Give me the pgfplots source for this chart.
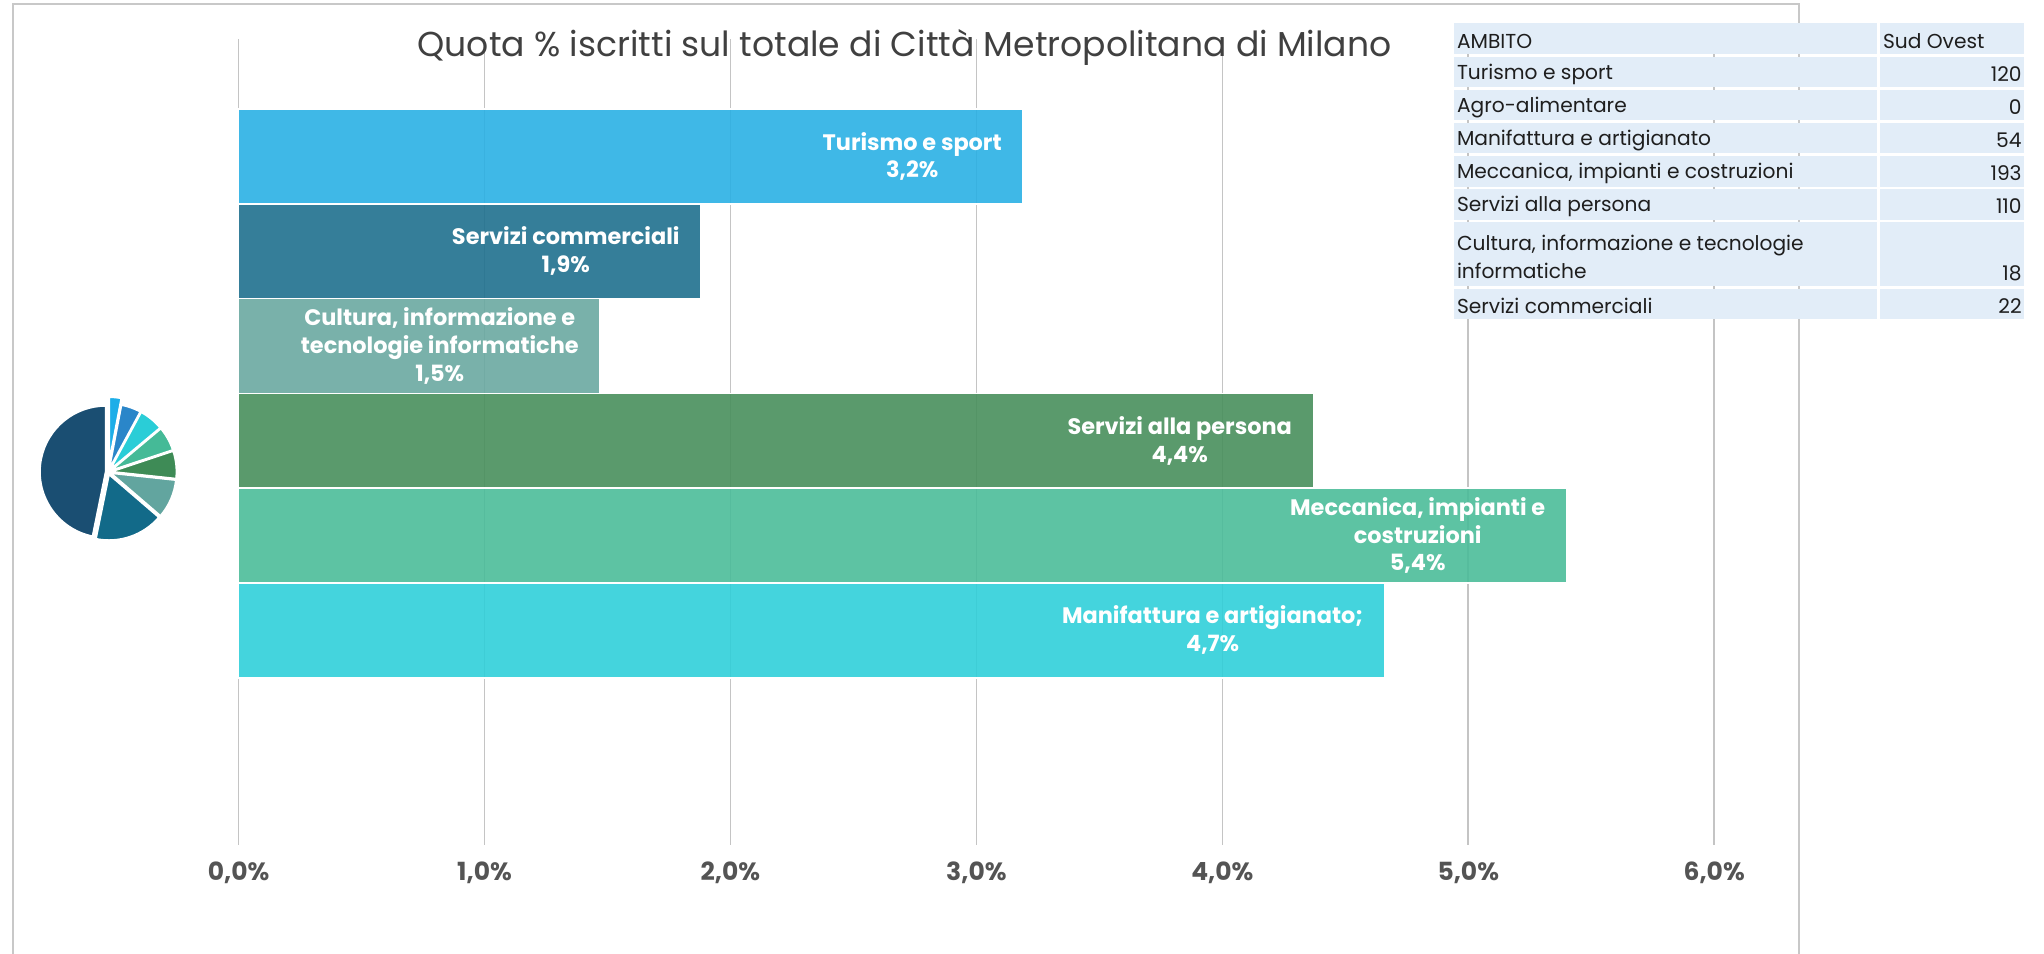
\documentclass[border=0pt]{standalone}
\usepackage{fontspec}
\setmainfont{Poppins}
\usepackage{pgfplots}
\pgfplotsset{compat=1.18}

% bar colours (base, shown at 90% opacity)
\definecolor{cTur}{HTML}{2AB0E4}
\definecolor{cCom}{HTML}{1F708E}
\definecolor{cCul}{HTML}{6AA9A1}
\definecolor{cPer}{HTML}{488F5C}
\definecolor{cMec}{HTML}{4BBC99}
\definecolor{cMan}{HTML}{30CFD9}
% pie colours
\definecolor{pA}{HTML}{1DAEE8}
\definecolor{pB}{HTML}{2A86C9}
\definecolor{pC}{HTML}{2ACDD7}
\definecolor{pD}{HTML}{45BA97}
\definecolor{pE}{HTML}{3E8B56}
\definecolor{pF}{HTML}{62A59F}
\definecolor{pG}{HTML}{126A89}
\definecolor{pH}{HTML}{1A4E72}
\definecolor{framegray}{HTML}{C8C8C8}
\definecolor{gridgray}{HTML}{C4C4C4}
\definecolor{tickgray}{HTML}{545454}
\definecolor{titlegray}{HTML}{404040}
\definecolor{tabfill}{HTML}{E2EDF8}
\definecolor{tabtext}{HTML}{1E1E1E}

\newcommand\pct{\pgfmathprintnumber[fixed,fixed zerofill,precision=1,use comma]{\pgfplotspointmeta}\%}

% table row: top (pt), number of lines, label, value
\newcommand\trow[4]{%
  \pgfmathsetmacro\tb{#1-#2*16.58+1.3}%
  \pgfmathsetmacro\tm{(#1+\tb)/2-1.2}%
  \pgfmathsetmacro\tv{\tb+6.6}%
  \fill[tabfill] (726.8pt,\tb pt) rectangle (938.6pt,#1pt);
  \fill[tabfill] (939.9pt,\tb pt) rectangle (1012.2pt,#1pt);
  \node[anchor=west, align=left, inner sep=0pt, text=tabtext,
        font=\fontsize{10.1}{14}\selectfont] at (728.3pt,\tm pt) {#3};
  \node[anchor=east, inner sep=0pt, text=tabtext,
        font=\fontsize{10.1}{14}\selectfont] at (1011pt,\tv pt) {#4};
}

\begin{document}
\begin{tikzpicture}
\path[use as bounding box] (0,0) rectangle (1022pt,476.5pt);
\draw[framegray, line width=1pt] (6.5pt,-2pt) -- (6.5pt,474.5pt) -- (899.5pt,474.5pt) -- (899.5pt,-2pt);

\begin{axis}[
    at={(119.3pt,54.1pt)}, anchor=south west,
    scale only axis,
    width=737.8pt, height=402.8pt,
    xmin=0, xmax=6,
    ymin=-2.263, ymax=6.238,
    clip=false,
    axis line style={draw=none},
    tick style={draw=none},
    ytick=\empty,
    xtick={0,1,2,3,4,5,6},
    xmajorgrids,
    major grid style={gridgray, line width=0.8pt},
    /pgf/number format/assume math mode=true,
    xticklabel={\pgfmathprintnumber[fixed,fixed zerofill,precision=1,use comma]{\tick}\%},
    xticklabel style={font=\bfseries\fontsize{12.5}{15}\selectfont, text=tickgray, yshift=-5pt},
    point meta=x,
    mybar/.style={xbar, bar width=1, bar shift=0pt, draw=white, line width=0.8pt,
        fill opacity=0.9, nodes near coords={#1\\\pct}},
    every node near coord/.append style={anchor=east, xshift=-7pt, align=center,
        text=white, text opacity=1, fill opacity=1,
        font=\bfseries\fontsize{11.2}{13.9}\selectfont},
]
\addplot[mybar={Manifattura e artigianato;}, fill=cMan] coordinates {(4.66,0)};
\addplot[mybar={Meccanica, impianti e\\costruzioni}, fill=cMec] coordinates {(5.40,1)};
\addplot[mybar={Servizi alla persona}, fill=cPer] coordinates {(4.37,2)};
\addplot[mybar={Cultura, informazione e\\tecnologie informatiche}, fill=cCul] coordinates {(1.47,3)};
\addplot[mybar={Servizi commerciali}, fill=cCom] coordinates {(1.88,4)};
\addplot[mybar={Turismo e sport}, fill=cTur] coordinates {(3.19,5)};
\end{axis}

% small pie inset: share / colour / explode (pt)
\gdef\pa{90}
\foreach \v/\c/\ex in {3.0/pA/4.5, 4.9/pB/1.2, 6.0/pC/1.2, 6.0/pD/1.2,
                       6.8/pE/1.2, 9.6/pF/1.2, 16.9/pG/1.2, 46.8/pH/1.2}{
  \pgfmathsetmacro\pb{\pa-3.6*\v}
  \pgfmathsetmacro\pmid{(\pa+\pb)/2}
  \fill[\c, draw=white, line width=1pt] ([shift={(\pmid:\ex pt)}]54.1pt,240.5pt)
      -- ++(\pa:33pt) arc[start angle=\pa, end angle=\pb, radius=33pt] -- cycle;
  \xdef\pa{\pb}
}

% data table
\trow{464.8}{1}{AMBITO}{}
\node[anchor=west, inner sep=0pt, text=tabtext, font=\fontsize{10.1}{14}\selectfont] at (941.3pt,455.9pt) {Sud Ovest};
\trow{448.22}{1}{Turismo e sport}{120}
\trow{431.64}{1}{Agro-alimentare}{0}
\trow{415.06}{1}{Manifattura e artigianato}{54}
\trow{398.48}{1}{Meccanica, impianti e costruzioni}{193}
\trow{381.9}{1}{Servizi alla persona}{110}
\trow{365.32}{2}{Cultura, informazione e tecnologie\\informatiche}{18}
\trow{332.16}{1}{Servizi commerciali}{22}

\node[text=titlegray, font=\fontsize{17.3}{20}\selectfont] at (452.3pt,452.6pt)
  {Quota \% iscritti sul totale di Città Metropolitana di Milano};
\end{tikzpicture}
\end{document}
